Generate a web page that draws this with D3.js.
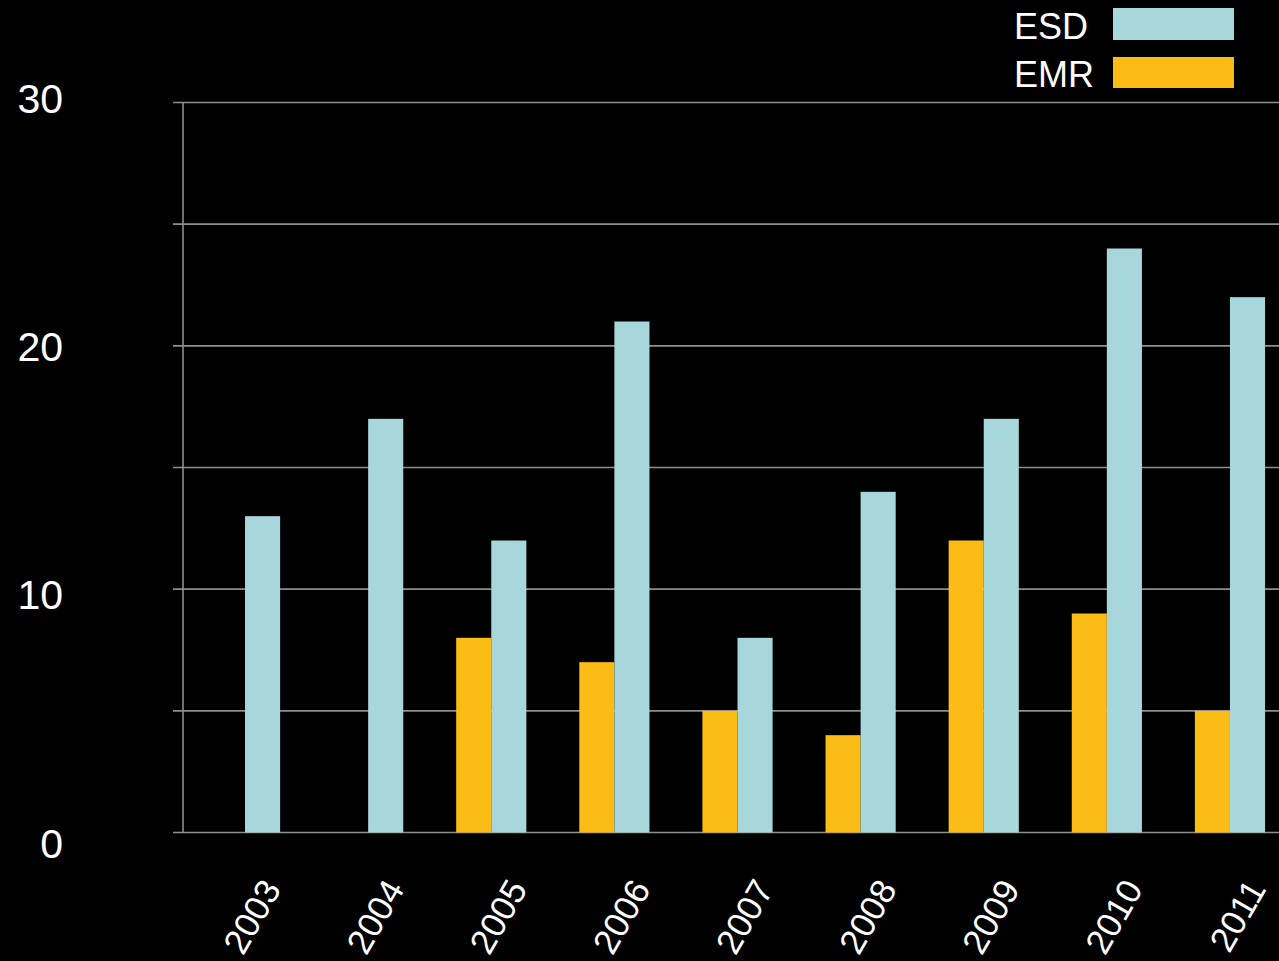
<!DOCTYPE html>
<html>
<head>
<meta charset="utf-8">
<script src="https://cdn.jsdelivr.net/npm/d3@7"></script>
<style>
  html, body { margin: 0; padding: 0; background: #000; }
  svg { display: block; }
</style>
</head>
<body>
<svg id="chart" width="1279" height="961"></svg>
<script>
// Yearly counts of the two series
const years = ["2003", "2004", "2005", "2006", "2007", "2008", "2009", "2010", "2011"];
const seriesNames = ["EMR", "ESD"];
const emrValues = [0, 0, 8, 7, 5, 4, 12, 9, 5];
const esdValues = [13, 17, 12, 21, 8, 14, 17, 24, 22];
const gridTicks = [0, 5, 10, 15, 20, 25, 30];
const labelTicks = [0, 10, 20, 30];

const colors = { ESD: "#a8d7db", EMR: "#fbbc16" };

const svg = d3.select("#chart");
const W = 1279, H = 961;

svg.append("rect").attr("width", W).attr("height", H).attr("fill", "#000");

const y = d3.scaleLinear().domain([0, 30]).range([832.5, 102.5]);
// the value labels sit on their own slightly wider spacing
const yLabel = d3.scaleLinear().domain([0, 30]).range([843, 98]);
const x0 = d3.scaleBand().domain(years).range([182, 1293])
  .paddingInner(0.43).paddingOuter(0.227);
const x1 = d3.scaleBand().domain(seriesNames).range([0, x0.bandwidth()]).padding(0);

const axisX = 183;

// horizontal grid lines with small ticks on the left of the axis
const grid = svg.append("g").attr("class", "grid");
grid.selectAll("line").data(gridTicks).join("line")
  .attr("x1", 173).attr("x2", W)
  .attr("y1", d => y(d)).attr("y2", d => y(d))
  .attr("stroke", "#8e8e8e").attr("stroke-width", 1.6);

// vertical axis line
svg.append("line")
  .attr("x1", axisX).attr("x2", axisX)
  .attr("y1", y(30)).attr("y2", y(0))
  .attr("stroke", "#8e8e8e").attr("stroke-width", 1.6);

// y tick labels
svg.append("g").selectAll("text").data(labelTicks).join("text")
  .attr("x", 63).attr("y", d => yLabel(d))
  .attr("dy", "0.36em")
  .attr("text-anchor", "end")
  .attr("fill", "#fff")
  .attr("font-family", "Liberation Sans, Arial, sans-serif")
  .attr("font-size", 41)
  .text(d => d);

// bars
const rows = years.map((yr, i) => ({ year: yr, EMR: emrValues[i], ESD: esdValues[i] }));
const groups = svg.append("g").selectAll("g").data(rows).join("g")
  .attr("transform", d => `translate(${x0(d.year)},0)`);

groups.selectAll("rect")
  .data(d => seriesNames.map(k => ({ key: k, value: d[k] })).filter(e => e.value > 0))
  .join("rect")
  .attr("x", d => x1(d.key))
  .attr("width", x1.bandwidth())
  .attr("y", d => y(d.value))
  .attr("height", d => y(0) - y(d.value))
  .attr("fill", d => colors[d.key]);

// rotated year labels
svg.append("g").selectAll("text").data(years).join("text")
  .attr("transform", d => `translate(${x0(d) + x0.bandwidth() / 2 + 37},889) rotate(-60)`)
  .attr("text-anchor", "end")
  .attr("fill", "#fff")
  .attr("font-family", "Liberation Sans, Arial, sans-serif")
  .attr("font-size", 35)
  .text(d => d);

// legend
const legendItems = [
  { key: "ESD", top: 8, h: 32, base: 39 },
  { key: "EMR", top: 57, h: 31, base: 87 }
];
const legend = svg.append("g");
legend.selectAll("rect").data(legendItems).join("rect")
  .attr("x", 1113).attr("y", d => d.top)
  .attr("width", 121).attr("height", d => d.h)
  .attr("fill", d => colors[d.key]);
legend.selectAll("text").data(legendItems).join("text")
  .attr("x", 1014).attr("y", d => d.base)
  .attr("fill", "#fff")
  .attr("font-family", "Liberation Sans, Arial, sans-serif")
  .attr("font-size", 36)
  .text(d => d.key);
</script>
</body>
</html>
